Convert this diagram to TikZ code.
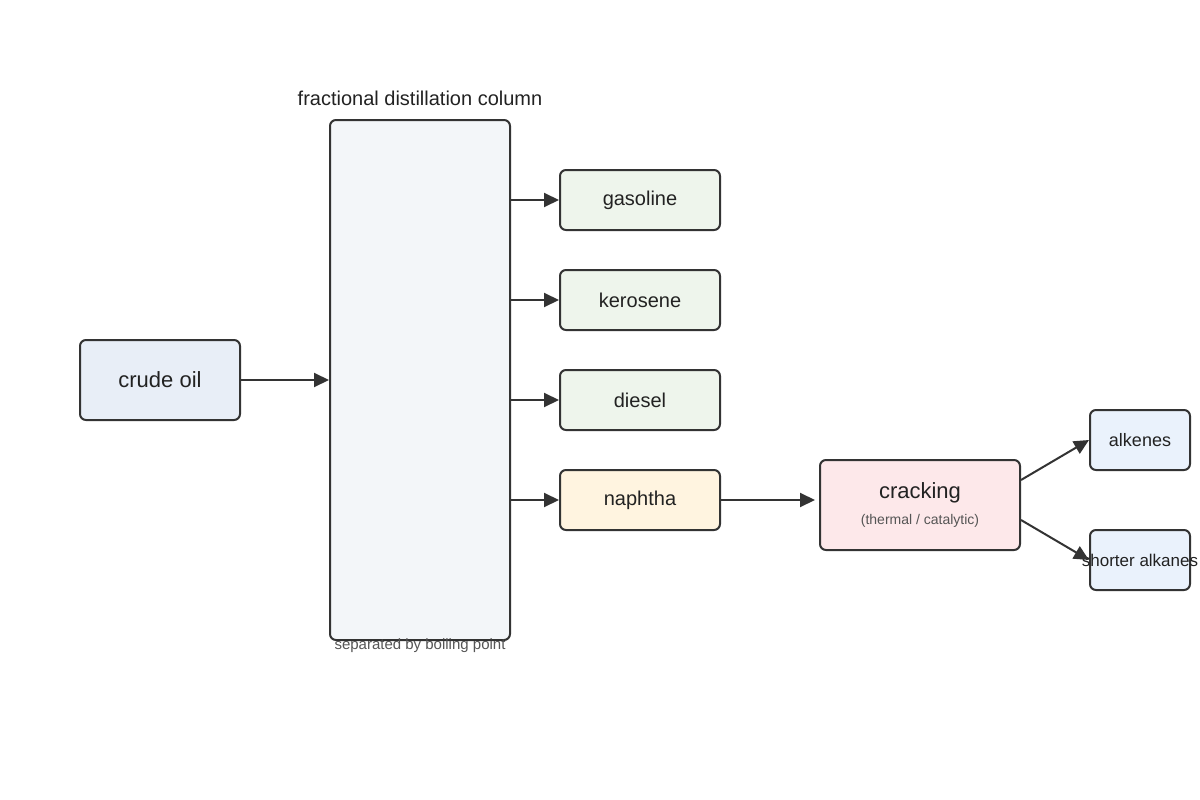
\documentclass[tikz,border=0pt]{standalone}
\usepackage{fontspec}
\setmainfont{Liberation Sans}
\usepackage{tikz}
\usetikzlibrary{arrows.meta}
\usetikzlibrary{positioning}
\usepackage{xcolor}

\definecolor{linedark}{HTML}{333333}
\definecolor{textdark}{HTML}{222222}
\definecolor{textgray}{HTML}{555555}
\definecolor{crudefill}{HTML}{E8EEF7}
\definecolor{colfill}{HTML}{F3F6F9}
\definecolor{prodfill}{HTML}{EEF5EC}
\definecolor{naphfill}{HTML}{FFF4E0}
\definecolor{crackfill}{HTML}{FDE8EA}
\definecolor{outfill}{HTML}{EAF2FC}
\newcommand{\fsz}[1]{\fontsize{#1}{#1}\selectfont}

\begin{document}
\begin{tikzpicture}[
        x=1pt, y=-1pt,
        node distance=38pt,
        every node/.style={text=textdark, inner sep=0pt, align=center},
        box/.style={draw=linedark, line width=2pt, rounded corners=6pt, minimum width=160pt, minimum height=60pt, font=\fsz{20}},
        flow/.style={draw=linedark, line width=2pt, -{Triangle[length=15pt, width=14pt]}}
        ]
        \useasboundingbox (0,0) rectangle (1200,800);

        % Nodes
        \node[box, fill=crudefill, minimum height=80pt, font=\fsz{22}] (crude) at (160,380) {crude oil};
        \node[box, fill=colfill, minimum width=180pt, minimum height=520pt] (column) at (420,380) {};
        \node[font=\fsz{20}] (coltitle) at (420,98) {fractional distillation column};
        \node[font=\fsz{15}, text=textgray] (colnote) at (420,646) {separated by boiling point};
        \node[box, fill=prodfill] (gasoline) at (640,200) {gasoline};
        \node[box, fill=prodfill, below=of gasoline] (kerosene) {kerosene};
        \node[box, fill=prodfill, below=of kerosene] (diesel) {diesel};
        \node[box, fill=naphfill, below=of diesel] (naphtha) {naphtha};
        \node[box, fill=crackfill, minimum width=200pt, minimum height=90pt] (cracking) at (920,505)
            {{\fsz{22}cracking}\\[6pt]{\fsz{14}\color{textgray}(thermal / catalytic)}};
        \node[box, fill=outfill, minimum width=100pt, font=\fsz{18}] (alkenes) at (1140,440) {alkenes};
        \node[box, fill=outfill, minimum width=100pt, font=\fsz{17}] (shorter) at (1140,560) {\makebox[0pt]{shorter alkanes}};

        % Arrows
        \draw[flow] (crude) -- (column);
        \draw[flow] (column.east |- gasoline) -- (gasoline);
        \draw[flow] (column.east |- kerosene) -- (kerosene);
        \draw[flow] (column.east |- diesel) -- (diesel);
        \draw[flow] (column.east |- naphtha) -- (naphtha);
        \draw[flow, shorten >=4pt] (naphtha) -- (naphtha -| cracking.west);
        \draw[flow] ([yshift=25pt]cracking.east) -- (alkenes.west);
        \draw[flow] ([yshift=-15pt]cracking.east) -- (shorter.west);

\end{tikzpicture}
\end{document}
